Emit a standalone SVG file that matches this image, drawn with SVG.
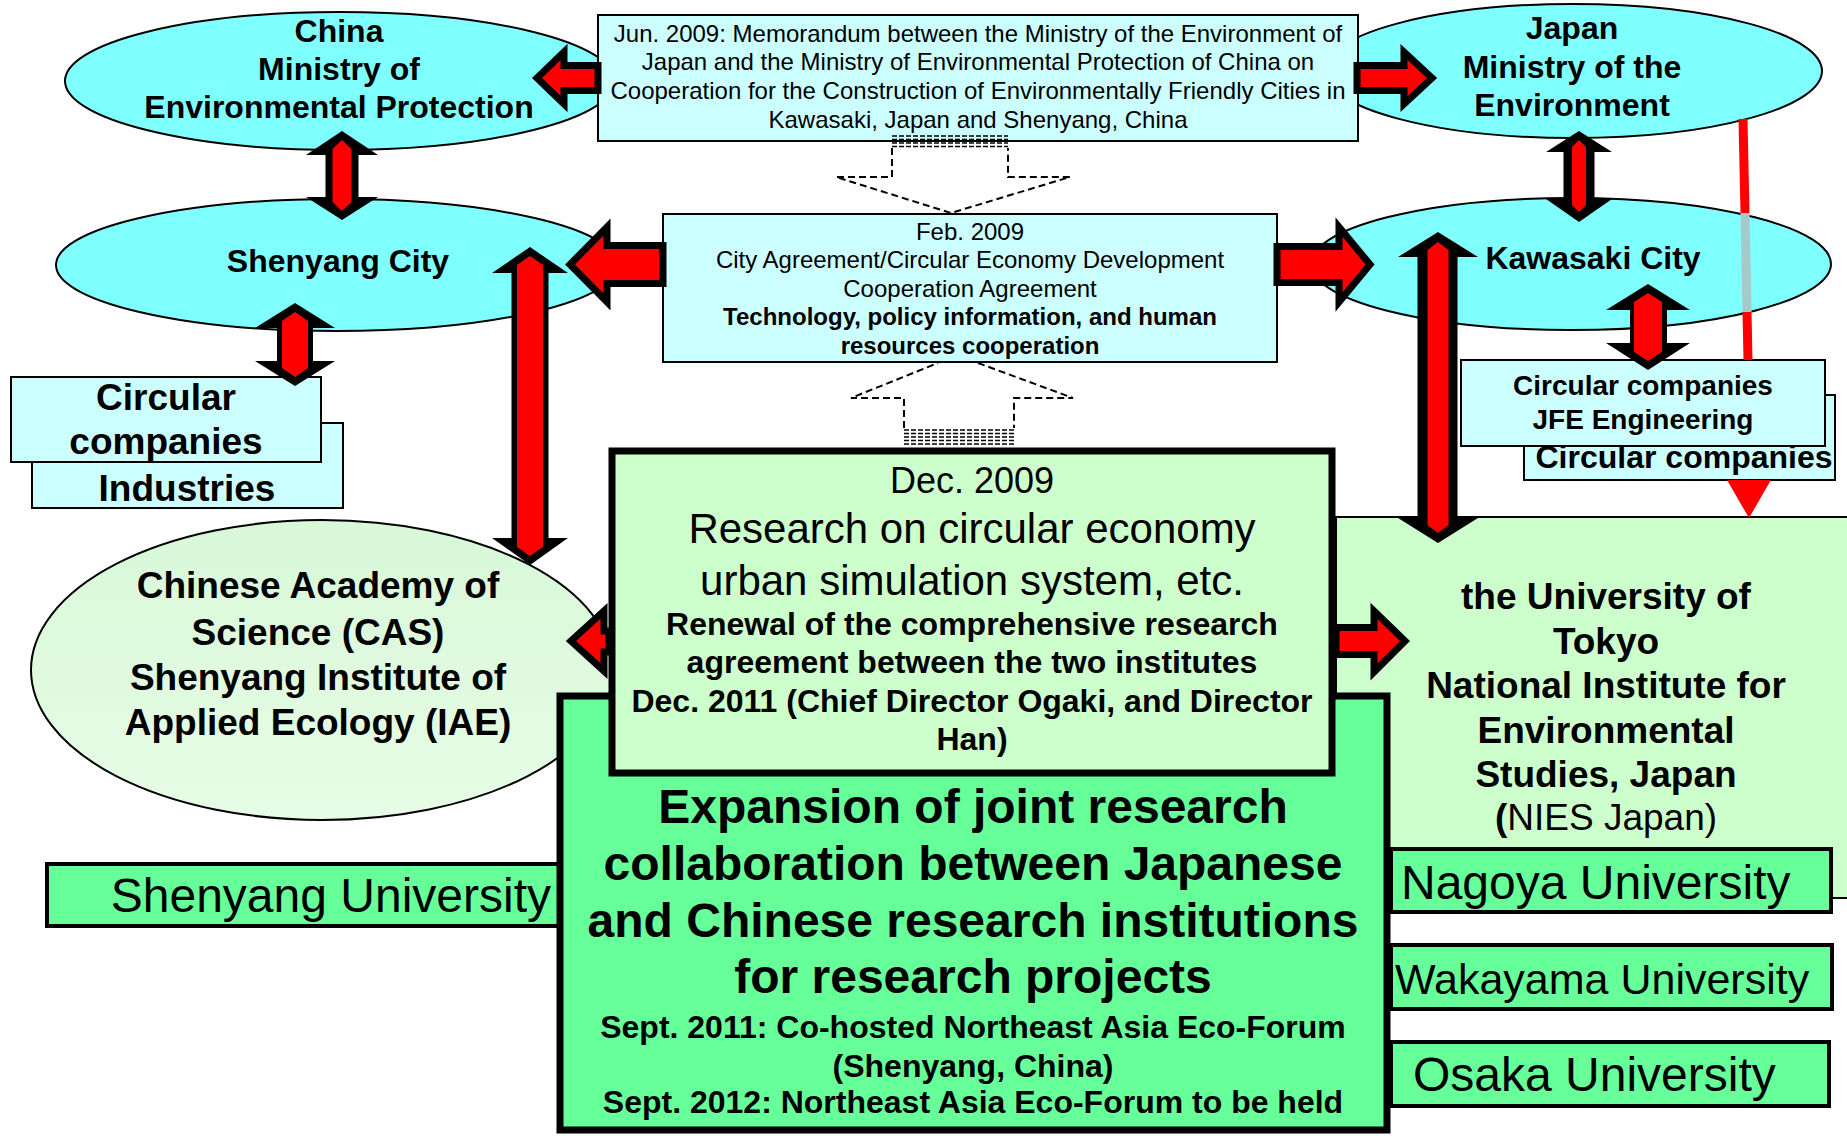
<svg xmlns="http://www.w3.org/2000/svg" width="1847" height="1136" viewBox="0 0 1847 1136">
<defs>
<style>
text{font-family:"Liberation Sans",Arial,Helvetica,sans-serif;fill:#000;text-anchor:middle}
.b{font-weight:bold}
.st{text-anchor:start}
.en{text-anchor:end}
.ell{fill:#80FFFF;stroke:#000;stroke-width:2}
.box{fill:#CCFFFF;stroke:#000;stroke-width:2}
.gbox{fill:#66FF99;stroke:#000;stroke-width:4}
.ra{fill:#FF0000;stroke:#000;stroke-width:7;stroke-linejoin:miter;stroke-miterlimit:10}
.vo{fill:#000}
.vi{fill:#FF0000}
.da{fill:none;stroke:#000;stroke-width:2;stroke-dasharray:7,4}
.ht{stroke:#000;stroke-width:1.6;stroke-dasharray:5,2}
</style>
<linearGradient id="gcas" x1="0" y1="0" x2="0" y2="1">
<stop offset="0" stop-color="#D8F8D8"/>
<stop offset="1" stop-color="#E6FCE6"/>
</linearGradient>
</defs>
<rect width="1847" height="1136" fill="#fff"/>

<g id="china-mep">
<ellipse class="ell" cx="340" cy="81" rx="275" ry="69"/>
<text class="b" font-size="32" x="339" y="42">China</text>
<text class="b" font-size="32" x="339" y="80">Ministry of</text>
<text class="b" font-size="32" x="339" y="118">Environmental Protection</text>
</g>
<g id="japan-moe">
<ellipse class="ell" cx="1573" cy="71" rx="249" ry="67"/>
<text class="b" font-size="32" x="1572" y="39">Japan</text>
<text class="b" font-size="32" x="1572" y="78">Ministry of the</text>
<text class="b" font-size="32" x="1572" y="116">Environment</text>
</g>
<g id="shenyang-city">
<ellipse class="ell" cx="337" cy="265" rx="281" ry="66"/>
<text class="b" font-size="32" x="338" y="272">Shenyang City</text>
</g>
<g id="kawasaki-city">
<ellipse class="ell" cx="1571" cy="264" rx="260" ry="66"/>
<text class="b" font-size="32" x="1593" y="269">Kawasaki City</text>
</g>
<g id="cas">
<ellipse cx="322" cy="670" rx="291" ry="150" fill="url(#gcas)" stroke="#000" stroke-width="2"/>
<text class="b" font-size="37" x="318" y="598">Chinese Academy of</text>
<text class="b" font-size="37" x="318" y="645">Science (CAS)</text>
<text class="b" font-size="37" x="318" y="690">Shenyang Institute of</text>
<text class="b" font-size="37" x="318" y="735">Applied Ecology (IAE)</text>
</g>
<g id="nies">
<rect x="1336" y="517" width="520" height="381" fill="#CCFFCC" stroke="#000" stroke-width="2"/>
<text class="b" font-size="37" x="1606" y="609">the University of</text>
<text class="b" font-size="37" x="1606" y="654">Tokyo</text>
<text class="b" font-size="37" x="1606" y="698">National Institute for</text>
<text class="b" font-size="37" x="1606" y="743">Environmental</text>
<text class="b" font-size="37" x="1606" y="787">Studies, Japan</text>
<text font-size="37" x="1606" y="830"><tspan class="b">(</tspan>NIES Japan)</text>
</g>
<g id="memorandum-2009">
<rect class="box" x="598" y="15" width="760" height="126"/>
<text font-size="24" x="978" y="42">Jun. 2009: Memorandum between the Ministry of the Environment of</text>
<text font-size="24" x="978" y="70">Japan and the Ministry of Environmental Protection of China on</text>
<text font-size="24" x="978" y="99">Cooperation for the Construction of Environmentally Friendly Cities in</text>
<text font-size="24" x="978" y="128">Kawasaki, Japan and Shenyang, China</text>
</g>
<g id="city-agreement-2009">
<rect class="box" x="663" y="214" width="614" height="148"/>
<text font-size="24" x="970" y="240">Feb. 2009</text>
<text font-size="24" x="970" y="268">City Agreement/Circular Economy Development</text>
<text font-size="24" x="970" y="297">Cooperation Agreement</text>
<text class="b" font-size="24" x="970" y="325">Technology, policy information, and human</text>
<text class="b" font-size="24" x="970" y="354">resources cooperation</text>
</g>
<g id="circular-industries-shenyang">
<rect class="box" x="32" y="423" width="311" height="85"/>
<text class="b" font-size="37" x="187" y="501">Industries</text>
<rect class="box" x="11" y="377" width="310" height="85"/>
<text class="b" font-size="37" x="166" y="410">Circular</text>
<text class="b" font-size="37" x="166" y="454">companies</text>
</g>
<g id="circular-companies-kawasaki">
<rect class="box" x="1524" y="395" width="311" height="85"/>
<text class="b" font-size="32" x="1684" y="468">Circular companies</text>
<rect class="box" x="1461" y="360" width="364" height="86"/>
<text class="b" font-size="28" x="1643" y="395">Circular companies</text>
<text class="b" font-size="28" x="1643" y="429">JFE Engineering</text>
</g>
<g id="shenyang-university">
<rect class="gbox" x="47" y="864" width="513" height="62"/>
<text class="en" font-size="48" x="551" y="912">Shenyang University</text>
</g>
<g id="nagoya-university">
<rect class="gbox" x="1391" y="849" width="440" height="63"/>
<text class="st" font-size="48" x="1401" y="899">Nagoya University</text>
</g>
<g id="wakayama-university">
<rect class="gbox" x="1391" y="945" width="441" height="64"/>
<text class="st" font-size="43" x="1395" y="994">Wakayama University</text>
</g>
<g id="osaka-university">
<rect class="gbox" x="1391" y="1042" width="438" height="64"/>
<text class="st" font-size="48" x="1413" y="1091">Osaka University</text>
</g>
<g id="joint-research-expansion">
<rect x="560" y="696" width="827" height="434" fill="#66FF99" stroke="#000" stroke-width="7"/>
<text class="b" font-size="48" x="973" y="823">Expansion of joint research</text>
<text class="b" font-size="48" x="973" y="880">collaboration between Japanese</text>
<text class="b" font-size="48" x="973" y="937">and Chinese research institutions</text>
<text class="b" font-size="48" x="973" y="993">for research projects</text>
<text class="b" font-size="32" x="973" y="1038">Sept. 2011: Co-hosted Northeast Asia Eco-Forum</text>
<text class="b" font-size="32" x="973" y="1077">(Shenyang, China)</text>
<text class="b" font-size="32" x="973" y="1113">Sept. 2012: Northeast Asia Eco-Forum to be held</text>
</g>
<g id="research-agreement-2009">
<rect x="612" y="451" width="720" height="322" fill="#CCFFCC" stroke="#000" stroke-width="7"/>
<text font-size="36" x="972" y="493">Dec. 2009</text>
<text font-size="42" x="972" y="543">Research on circular economy</text>
<text font-size="42" x="972" y="595">urban simulation system, etc.</text>
<text class="b" font-size="32" x="972" y="635">Renewal of the comprehensive research</text>
<text class="b" font-size="32" x="972" y="673">agreement between the two institutes</text>
<text class="b" font-size="32" x="972" y="712">Dec. 2011 (Chief Director Ogaki, and Director</text>
<text class="b" font-size="32" x="972" y="750">Han)</text>
</g>

<g id="connectors">
<!-- thin red line Japan MoE to NIES -->
<line x1="1743" y1="119" x2="1745" y2="213" stroke="#FF0000" stroke-width="9"/>
<line x1="1745" y1="213" x2="1747" y2="312" stroke="#A6CACA" stroke-width="9"/>
<line x1="1747" y1="312" x2="1748" y2="360" stroke="#FF0000" stroke-width="9"/>
<polygon points="1727,480 1771,480 1749,518" fill="#FF0000"/>
<!-- dashed hollow arrow: memorandum to city agreement -->
<path class="da" d="M892,148 V177 H836 L951,213 L1070,177 H1008 V148"/>
<line class="ht" x1="892" y1="136" x2="1008" y2="136"/>
<line class="ht" x1="892" y1="139.5" x2="1008" y2="139.5"/>
<line class="ht" x1="892" y1="143" x2="1008" y2="143"/>
<line class="ht" x1="892" y1="146.5" x2="1008" y2="146.5"/>
<!-- dashed hollow arrow: research agreement to city agreement -->
<path class="da" d="M904,428 V398 H851 L938,363 M978,363 L1073,398 H1014 V428"/>
<line class="ht" x1="904" y1="430" x2="1014" y2="430"/>
<line class="ht" x1="904" y1="433.5" x2="1014" y2="433.5"/>
<line class="ht" x1="904" y1="437" x2="1014" y2="437"/>
<line class="ht" x1="904" y1="440.5" x2="1014" y2="440.5"/>
<line class="ht" x1="904" y1="444" x2="1014" y2="444"/>
<!-- horizontal red arrows -->
<polygon class="ra" points="598,65.5 564,65.5 564,52 537,78 564,104 564,90.5 598,90.5"/>
<polygon class="ra" points="1357,65.5 1404,65.5 1404,52 1432,78 1404,104 1404,90.5 1357,90.5"/>
<polygon class="ra" points="663,245.5 607,245.5 607,227 570,264.5 607,302 607,283.5 663,283.5"/>
<polygon class="ra" points="1277,246.5 1339,246.5 1339,227 1370,264.5 1339,302 1339,282.5 1277,282.5"/>
<polygon class="ra" points="609,631 604,631 604,611 571,641 604,671 604,652 609,652"/>
<polygon class="ra" points="1336,627.5 1374,627.5 1374,611 1405,641 1374,672 1374,654.5 1336,654.5"/>
<!-- vertical double red arrows (black outline + red core) -->
<g>
<polygon class="vo" points="342,131 378,155 358.5,155 358.5,197 378,197 342,220 306,197 325.5,197 325.5,155 306,155"/>
<polygon class="vi" points="342,140 351.5,149 351.5,202 342,211 332.5,202 332.5,149"/>
</g>
<g>
<polygon class="vo" points="1579,131 1612,152 1594.5,152 1594.5,199 1612,199 1579,222 1546,199 1563.5,199 1563.5,152 1546,152"/>
<polygon class="vi" points="1579,140 1586,147 1586,205 1579,212 1572,205 1572,147"/>
</g>
<g>
<polygon class="vo" points="1648,284 1690,310 1667,310 1667,343 1690,343 1648,370 1606,343 1630,343 1630,310 1606,310"/>
<polygon class="vi" points="1648,293 1662,302 1662,352 1648,361 1634,352 1634,302"/>
</g>
<g>
<polygon class="vo" points="295,303 335,328 313,328 313,361 335,361 295,386 255,361 277,361 277,328 255,328"/>
<polygon class="vi" points="295,312 308,321 308,368 295,377 282,368 282,321"/>
</g>
<g>
<polygon class="vo" points="530,247 568,273 548.5,273 548.5,538 568,538 530,565 492,538 511.5,538 511.5,273 492,273"/>
<polygon class="vi" points="530,256 543,265 543,547 530,556 517,547 517,265"/>
</g>
<g>
<polygon class="vo" points="1438,232 1478,257 1457.5,257 1457.5,518 1478,518 1438,543 1398,518 1417.5,518 1417.5,257 1398,257"/>
<polygon class="vi" points="1438,242 1448.5,250 1448.5,525 1438,533 1427.5,525 1427.5,250"/>
</g>
</g>
</svg>
